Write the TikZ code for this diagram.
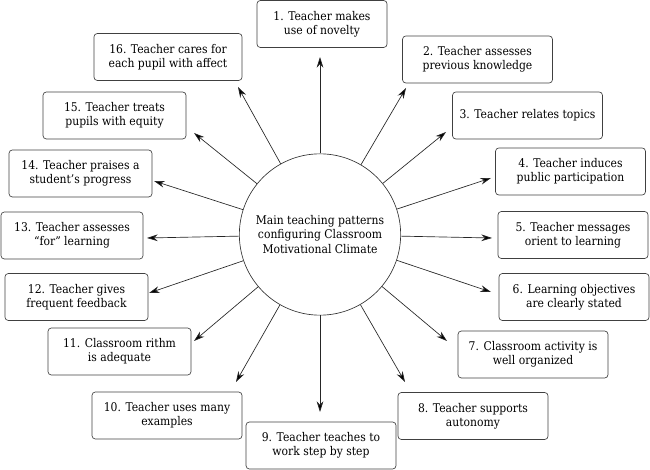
\documentclass[tikz,border=0pt]{standalone}
\usepackage{fontspec}
\setmainfont{DejaVu Serif Condensed}
\usetikzlibrary{arrows.meta}

\begin{document}
\begin{tikzpicture}[
            x = 0.75pt, y = -0.75pt, % pixel grid, y going down
            > = {Stealth[length=8pt,width=5pt]}, % arrow head style
            every node/.style = {font=\fontsize{9}{10.6}\selectfont},
        ]

        \tikzstyle{pattern box}=[
            draw = black!75,
            line width = 0.5pt,
            rounded corners = 2.5pt,
            align = center,
            minimum width = 112.5pt,
            minimum height = 35.25pt
        ]

  \useasboundingbox (0,0) rectangle (650,470);

  \node[circle, draw=black!80, line width=0.5pt, minimum size=121pt, inner sep=0pt, align=center] (climate) at (320,234.5) {Main teaching patterns\\configuring Classroom\\Motivational Climate};

  \node[pattern box, minimum width=97.5pt] (p1) at (322,24) {1. Teacher makes\\use of novelty};
  \node[pattern box] (p2) at (477.5,59.5) {2. Teacher assesses\\previous knowledge};
  \node[pattern box] (p3) at (527.5,115.5) {3. Teacher relates topics};
  \node[pattern box] (p4) at (570.5,171.5) {4. Teacher induces\\public participation};
  \node[pattern box] (p5) at (573,235) {5. Teacher messages\\orient to learning};
  \node[pattern box] (p6) at (574,297) {6. Learning objectives\\are clearly stated};
  \node[pattern box] (p7) at (533,354.5) {7. Classroom activity is\\well organized};
  \node[pattern box] (p8) at (473,416) {8. Teacher supports\\autonomy};
  \node[pattern box] (p9) at (321,445.5) {9. Teacher teaches to\\work step by step};
  \node[pattern box] (p10) at (167,415.5) {10. Teacher uses many\\examples};
  \node[pattern box, minimum width=107.25pt] (p11) at (119.5,351.5) {11. Classroom rithm\\is adequate};
  \node[pattern box, minimum width=107.25pt] (p12) at (76.5,297) {12. Teacher gives\\frequent feedback};
  \node[pattern box, minimum width=106.5pt] (p13) at (72,235.5) {13. Teacher assesses\\``for'' learning};
  \node[pattern box, minimum width=107.25pt] (p14) at (80.5,173.5) {14. Teacher praises a\\student's progress};
  \node[pattern box, minimum width=107.25pt] (p15) at (114.5,115.5) {15. Teacher treats\\pupils with equity};
  \node[pattern box, minimum width=111pt] (p16) at (168,57) {16. Teacher cares for\\each pupil with affect};

  % arrow tips stop short of the boxes
  \coordinate (a1) at (320,57);
  \coordinate (a2) at (406,88);
  \coordinate (a3) at (446,132);
  \coordinate (a4) at (491,178);
  \coordinate (a5) at (492,238);
  \coordinate (a6) at (491,292);
  \coordinate (a7) at (447,341);
  \coordinate (a8) at (405,382);
  \coordinate (a9) at (320,412);
  \coordinate (a10) at (236,382);
  \coordinate (a11) at (194,341);
  \coordinate (a12) at (149,293);
  \coordinate (a13) at (147,238);
  \coordinate (a14) at (154,181);
  \coordinate (a15) at (194,133);
  \coordinate (a16) at (238,87);

  \path[->, draw=black!85, line width=0.5pt] (climate) edge (a1) (climate) edge (a2) (climate) edge (a3) (climate) edge (a4);
  \path[->, draw=black!85, line width=0.5pt] (climate) edge (a5) (climate) edge (a6) (climate) edge (a7) (climate) edge (a8);
  \path[->, draw=black!85, line width=0.5pt] (climate) edge (a9) (climate) edge (a10) (climate) edge (a11) (climate) edge (a12);
  \path[->, draw=black!85, line width=0.5pt] (climate) edge (a13) (climate) edge (a14) (climate) edge (a15) (climate) edge (a16);

\end{tikzpicture}
\end{document}
